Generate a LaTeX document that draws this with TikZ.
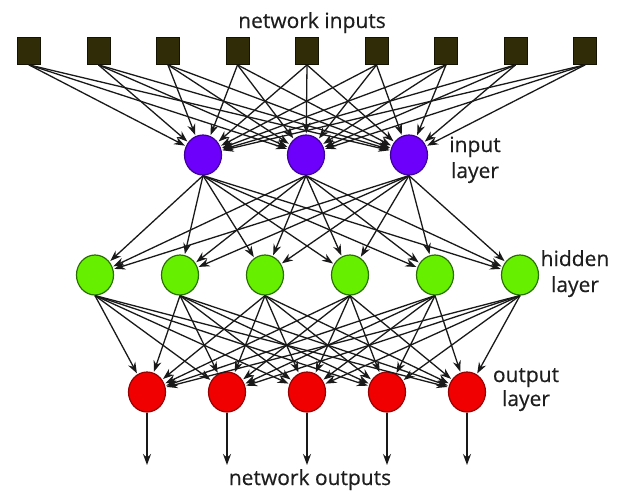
\documentclass[tikz,border=0pt]{standalone}
\usepackage{fontspec}
\setmainfont{Open Sans}
\newfontfamily\capfont[FakeBold=0.4]{Open Sans}
\usetikzlibrary{arrows.meta,shapes.geometric}

\definecolor{inbox}{RGB}{48,44,8}
\definecolor{inboxline}{RGB}{20,18,0}
\definecolor{violetfill}{RGB}{108,0,250}
\definecolor{violetline}{RGB}{60,0,150}
\definecolor{limefill}{RGB}{102,240,0}
\definecolor{limeline}{RGB}{40,110,0}
\definecolor{redfill}{RGB}{240,0,0}
\definecolor{redline}{RGB}{150,0,0}
\definecolor{wire}{RGB}{25,25,25}
\definecolor{labeltext}{RGB}{30,30,30}

\tikzset{
  inputbox/.style={draw=inboxline, fill=inbox, line width=0.8pt,
    minimum width=23pt, minimum height=27pt, inner sep=0pt},
  neuron/.style={ellipse, line width=1.2pt, minimum width=37pt,
    minimum height=40pt, inner sep=0pt},
  inneuron/.style={neuron, draw=violetline, fill=violetfill},
  hidneuron/.style={neuron, draw=limeline, fill=limefill},
  outneuron/.style={neuron, draw=redline, fill=redfill},
  wirearrow/.style={draw=wire, line width=1.3pt, shorten >=1pt,
    -{Stealth[length=11pt,width=8pt]}},
  caption/.style={anchor=base, text=labeltext,
    font=\capfont\fontsize{21}{26}\selectfont}
}

\begin{document}
\begin{tikzpicture}[x=1pt, y=-1pt]
  \useasboundingbox (0,0) rectangle (620,490);

  % network inputs
  \foreach \i in {0,...,8} {
    \node[inputbox] (x\i) at ({29+69.5*\i}, 51) {};
  }
  % input layer
  \foreach \i/\x in {0/203, 1/306, 2/409} {
    \node[inneuron] (a\i) at (\x, 155) {};
  }
  % hidden layer
  \foreach \i in {0,...,5} {
    \node[hidneuron] (h\i) at ({95+85*\i}, 275) {};
  }
  % output layer
  \foreach \i in {0,...,4} {
    \node[outneuron] (o\i) at ({147+80*\i}, 392) {};
    \coordinate (y\i) at ({147+80*\i}, 466);
  }

  % connections
  \foreach \i in {0,...,8} {
    \foreach \j in {0,1,2} {
      \draw[wirearrow] (x\i.south) -- (a\j);
    }
  }
  \foreach \i in {0,1,2} {
    \foreach \j in {0,...,5} {
      \draw[wirearrow] (a\i.south) -- (h\j);
    }
  }
  \foreach \i in {0,...,5} {
    \foreach \j in {0,...,4} {
      \draw[wirearrow] (h\i.south) -- (o\j);
    }
  }
  \foreach \i in {0,...,4} {
    \draw[wirearrow] (o\i.south) -- (y\i);
  }

  % captions
  \node[caption] (tin) at (312, 28) {network inputs};
  \node[caption] (tin1) at (475, 152) {input};
  \node[caption] (tin2) at (475, 178) {layer};
  \node[caption] (thd1) at (575, 266) {hidden};
  \node[caption] (thd2) at (575, 292) {layer};
  \node[caption] (tout1) at (526, 382) {output};
  \node[caption] (tout2) at (526, 406) {layer};
  \node[caption] (tout) at (310, 485) {network outputs};
\end{tikzpicture}
\end{document}
